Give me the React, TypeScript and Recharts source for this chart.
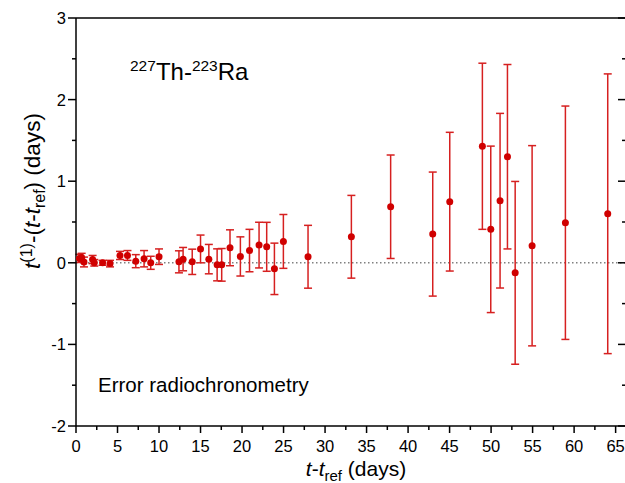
import React from 'react';
import { ScatterChart, Scatter, XAxis, YAxis, ErrorBar, ReferenceLine, Customized } from 'recharts';

const elapsedDays = [0.4, 0.68, 0.96, 2.0, 2.2, 3.2, 4.1, 5.3, 6.2, 7.2, 8.2, 9.0, 10.0, 12.4, 12.9, 14.0, 15.0, 16.0, 17.0, 17.55, 18.55, 19.8, 20.9, 22.05, 22.97, 23.9, 24.98, 27.95, 33.17, 37.9, 42.97, 45.02, 48.95, 49.96, 51.08, 51.97, 52.9, 54.94, 58.95, 64.05];
const deviations = [0.054, 0.066, 0.01, 0.04, 0.0, 0.0, -0.01, 0.09, 0.09, 0.02, 0.05, 0.0, 0.075, 0.012, 0.045, 0.012, 0.17, 0.045, -0.025, -0.025, 0.184, 0.078, 0.15, 0.217, 0.196, -0.074, 0.262, 0.074, 0.319, 0.687, 0.352, 0.749, 1.428, 0.41, 0.761, 1.3, -0.123, 0.209, 0.491, 0.601];
const uncertainties = [0.05, 0.05, 0.06, 0.05, 0.04, 0.03, 0.04, 0.05, 0.06, 0.08, 0.1, 0.08, 0.095, 0.135, 0.143, 0.155, 0.17, 0.18, 0.196, 0.2, 0.22, 0.24, 0.26, 0.28, 0.3, 0.315, 0.33, 0.385, 0.507, 0.634, 0.76, 0.85, 1.018, 1.02, 1.07, 1.13, 1.12, 1.227, 1.43, 1.714];

const xTicks = [0, 2.5, 5, 7.5, 10, 12.5, 15, 17.5, 20, 22.5, 25, 27.5, 30, 32.5, 35, 37.5, 40, 42.5, 45, 47.5, 50, 52.5, 55, 57.5, 60, 62.5, 65];
const yTicks = [-2, -1.5, -1, -0.5, 0, 0.5, 1, 1.5, 2, 2.5, 3];

const data = elapsedDays.map((t, i) => ({ t, dev: deviations[i], err: uncertainties[i] }));

const FONT = '"Liberation Sans", Arial, sans-serif';
const RED = '#d00000';

const BottomTick = (props: any) => {
  const { x, y, payload } = props;
  const v = payload.value;
  const major = v % 5 === 0;
  return (
    <g>
      <line x1={x} x2={x} y1={y} y2={y + (major ? 7 : 4)} stroke="#000" strokeWidth={1.5} />
      {major && (
        <text x={x} y={y + 26} textAnchor="middle" fontSize={16.5} fontFamily={FONT} fill="#000">
          {v}
        </text>
      )}
    </g>
  );
};

const TopTick = (props: any) => {
  const { x, y, payload } = props;
  const major = payload.value % 5 === 0;
  return <line x1={x} x2={x} y1={y} y2={y + (major ? 7 : 4)} stroke="#000" strokeWidth={1.5} />;
};

const LeftTick = (props: any) => {
  const { x, y, payload } = props;
  const v = payload.value;
  const major = Number.isInteger(v);
  return (
    <g>
      <line x1={x} x2={x - (major ? 8 : 4)} y1={y} y2={y} stroke="#000" strokeWidth={1.5} />
      {major && (
        <text x={x - 10} y={y + 6} textAnchor="end" fontSize={16.5} fontFamily={FONT} fill="#000">
          {v}
        </text>
      )}
    </g>
  );
};

const RightTick = (props: any) => {
  const { x, y, payload } = props;
  const major = Number.isInteger(payload.value);
  return <line x1={x} x2={x - (major ? 8 : 4)} y1={y} y2={y} stroke="#000" strokeWidth={1.5} />;
};

const Dot = (props: any) => <circle cx={props.cx} cy={props.cy} r={3.5} fill={RED} />;

const Texts = () => (
  <g fontFamily={FONT} fill="#000">
    <text x={130} y={80} fontSize={24}>
      <tspan fontSize={15.5} dy={-9}>227</tspan>
      <tspan dy={9}>Th-</tspan>
      <tspan fontSize={15.5} dy={-9}>223</tspan>
      <tspan dy={9}>Ra</tspan>
    </text>
    <text x={98} y={392} fontSize={20.5}>Error radiochronometry</text>
    <text x={356} y={476} fontSize={21} textAnchor="middle">
      <tspan fontStyle="italic">t</tspan>
      <tspan>-</tspan>
      <tspan fontStyle="italic">t</tspan>
      <tspan fontSize={15} dy={5}>ref</tspan>
      <tspan dy={-5}> (days)</tspan>
    </text>
    <text transform="translate(40,191) rotate(-90)" x={0} y={0} fontSize={22.5} textAnchor="middle">
      <tspan fontStyle="italic">t</tspan>
      <tspan fontSize={16} dy={-8}>(1)</tspan>
      <tspan dy={8}>-(</tspan>
      <tspan fontStyle="italic">t</tspan>
      <tspan>-</tspan>
      <tspan fontStyle="italic">t</tspan>
      <tspan fontSize={16} dy={5}>ref</tspan>
      <tspan dy={-5}>) (days)</tspan>
    </text>
  </g>
);

export default function App() {
  return (
    <div style={{ position: 'absolute', left: 0, top: 0, width: 625, height: 483, overflow: 'hidden', background: '#fff' }}>
      <ScatterChart width={640} height={483} margin={{ top: 17, right: 13, bottom: 56, left: 75 }}>
        <XAxis
          xAxisId="bottom"
          dataKey="t"
          type="number"
          domain={[0, 66.25]}
          ticks={xTicks}
          interval={0}
          allowDataOverflow
          height={1}
          tickSize={0}
          tickMargin={0}
          tick={<BottomTick />}
          tickLine={false}
          axisLine={{ stroke: '#000', strokeWidth: 1.5 }}
        />
        <XAxis
          xAxisId="top"
          orientation="top"
          type="number"
          domain={[0, 66.25]}
          ticks={xTicks}
          interval={0}
          allowDataOverflow
          height={1}
          tickSize={0}
          tickMargin={0}
          tick={<TopTick />}
          tickLine={false}
          axisLine={{ stroke: '#000', strokeWidth: 1.5 }}
        />
        <YAxis
          yAxisId="left"
          dataKey="dev"
          type="number"
          domain={[-2, 3]}
          ticks={yTicks}
          interval={0}
          allowDataOverflow
          width={1}
          tickSize={0}
          tickMargin={0}
          tick={<LeftTick />}
          tickLine={false}
          axisLine={{ stroke: '#000', strokeWidth: 1.5 }}
        />
        <YAxis
          yAxisId="right"
          orientation="right"
          type="number"
          domain={[-2, 3]}
          ticks={yTicks}
          interval={0}
          allowDataOverflow
          width={1}
          tickSize={0}
          tickMargin={0}
          tick={<RightTick />}
          tickLine={false}
          axisLine={{ stroke: '#000', strokeWidth: 1.5 }}
        />
        <ReferenceLine xAxisId="bottom" yAxisId="left" y={0} stroke="#808080" strokeWidth={1.5} strokeDasharray="1.5 2.5" />
        <Scatter xAxisId="bottom" yAxisId="left" data={data} shape={<Dot />} isAnimationActive={false}>
          <ErrorBar dataKey="err" direction="y" width={4} stroke="#d62020" strokeWidth={1.5} isAnimationActive={false} />
        </Scatter>
        <Customized component={Texts} />
      </ScatterChart>
    </div>
  );
}
